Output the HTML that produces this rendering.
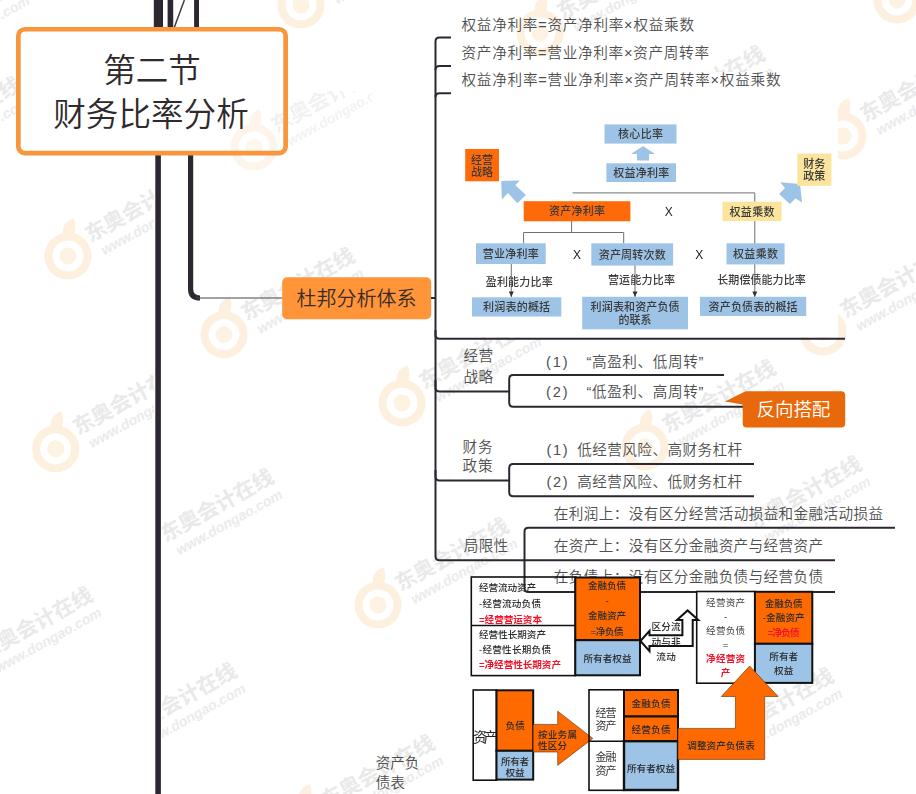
<!DOCTYPE html>
<html lang="zh-CN">
<head>
<meta charset="utf-8">
<title>第二节 财务比率分析</title>
<style>
html,body{margin:0;padding:0;background:#fff;}
body{width:916px;height:794px;overflow:hidden;position:relative;font-family:"Liberation Sans","Noto Sans CJK SC",sans-serif;}
svg{position:absolute;left:0;top:0;display:block;}
text{font-family:"Liberation Sans","Noto Sans CJK SC",sans-serif;}
.ln{fill:none;stroke:#2c2730;stroke-width:2;stroke-linecap:butt;stroke-linejoin:round;}
.t{font-size:14.6px;fill:#4e4e4e;font-weight:350;}
.d{font-size:11px;fill:#3a3a3a;font-weight:500;}
.s{font-size:9.6px;fill:#2a2a2a;font-weight:500;}
.r{fill:#f0142a;font-weight:700;}
.w1{font-size:21px;fill:#e9e9e9;font-weight:700;}
.w2{font-size:14px;fill:#ebebeb;font-weight:700;font-style:italic;}
</style>
</head>
<body>
<svg width="916" height="794" viewBox="0 0 916 794">
<defs><clipPath id="cL"><rect x="0" y="0" width="154" height="794"/></clipPath><clipPath id="cR"><rect x="162" y="0" width="754" height="794"/></clipPath><clipPath id="cT"><rect x="200" y="91" width="172" height="80"/></clipPath><clipPath id="cM"><rect x="766" y="600" width="150" height="194"/></clipPath></defs>
<g id="wms">
<g clip-path="url(#cL)"><g transform="translate(55.7 448.8) rotate(-29)"><circle cx="0" cy="0" r="19.5" fill="none" stroke="#fdf0de" stroke-width="8"/><circle cx="0" cy="0" r="8.5" fill="#fef2e3"/><path d="M6 -22 Q12 -33 23 -30 Q22 -20 14 -15 Z" fill="#fdf0de"/><text class="w1" x="26" y="-1">东奥会计在线</text><text class="w2" x="32" y="17">www.dongao.com</text></g>
</g>
<g clip-path="url(#cL)"><g transform="translate(68 256) rotate(-29)"><circle cx="0" cy="0" r="19.5" fill="none" stroke="#fdf0de" stroke-width="8"/><circle cx="0" cy="0" r="8.5" fill="#fef2e3"/><path d="M6 -22 Q12 -33 23 -30 Q22 -20 14 -15 Z" fill="#fdf0de"/><text class="w1" x="26" y="-1">东奥会计在线</text><text class="w2" x="32" y="17">www.dongao.com</text></g>
</g>
<g clip-path="url(#cR)"><g transform="translate(224 334.6) rotate(-29)"><circle cx="0" cy="0" r="19.5" fill="none" stroke="#fdf0de" stroke-width="8"/><circle cx="0" cy="0" r="8.5" fill="#fef2e3"/><path d="M6 -22 Q12 -33 23 -30 Q22 -20 14 -15 Z" fill="#fdf0de"/><text class="w1" x="26" y="-1">东奥会计在线</text><text class="w2" x="32" y="17">www.dongao.com</text></g>
</g>
<g transform="translate(402 403) rotate(-29)"><circle cx="0" cy="0" r="19.5" fill="none" stroke="#fdf0de" stroke-width="8"/><circle cx="0" cy="0" r="8.5" fill="#fef2e3"/><path d="M6 -22 Q12 -33 23 -30 Q22 -20 14 -15 Z" fill="#fdf0de"/><text class="w1" x="26" y="-1">东奥会计在线</text><text class="w2" x="32" y="17">www.dongao.com</text></g>
<g transform="translate(378 605) rotate(-29)"><circle cx="0" cy="0" r="19.5" fill="none" stroke="#fdf0de" stroke-width="8"/><circle cx="0" cy="0" r="8.5" fill="#fef2e3"/><path d="M6 -22 Q12 -33 23 -30 Q22 -20 14 -15 Z" fill="#fdf0de"/><text class="w1" x="26" y="-1">东奥会计在线</text><text class="w2" x="32" y="17">www.dongao.com</text></g>
<g transform="translate(301 5) rotate(-29)"><circle cx="0" cy="0" r="19.5" fill="none" stroke="#fdf0de" stroke-width="8"/><circle cx="0" cy="0" r="8.5" fill="#fef2e3"/><path d="M6 -22 Q12 -33 23 -30 Q22 -20 14 -15 Z" fill="#fdf0de"/><text class="w1" x="26" y="-1">东奥会计在线</text><text class="w2" x="32" y="17">www.dongao.com</text></g>
<g transform="translate(843 136) rotate(-29)"><circle cx="0" cy="0" r="19.5" fill="none" stroke="#fdf0de" stroke-width="8"/><circle cx="0" cy="0" r="8.5" fill="#fef2e3"/><path d="M6 -22 Q12 -33 23 -30 Q22 -20 14 -15 Z" fill="#fdf0de"/><text class="w1" x="26" y="-1">东奥会计在线</text><text class="w2" x="32" y="17">www.dongao.com</text></g>
<g transform="translate(540 33) rotate(-29)"><circle cx="0" cy="0" r="19.5" fill="none" stroke="#fdf0de" stroke-width="8"/><circle cx="0" cy="0" r="8.5" fill="#fef2e3"/><path d="M6 -22 Q12 -33 23 -30 Q22 -20 14 -15 Z" fill="#fdf0de"/><text class="w1" x="26" y="-1">东奥会计在线</text><text class="w2" x="32" y="17">www.dongao.com</text></g>
<g transform="translate(897 0) rotate(-29)"><circle cx="0" cy="0" r="19.5" fill="none" stroke="#fdf0de" stroke-width="8"/><circle cx="0" cy="0" r="8.5" fill="#fef2e3"/><path d="M6 -22 Q12 -33 23 -30 Q22 -20 14 -15 Z" fill="#fdf0de"/><text class="w1" x="26" y="-1">东奥会计在线</text><text class="w2" x="32" y="17">www.dongao.com</text></g>
<g transform="translate(634 133) rotate(-29)"><circle cx="0" cy="0" r="19.5" fill="none" stroke="#fdf0de" stroke-width="8"/><circle cx="0" cy="0" r="8.5" fill="#fef2e3"/><path d="M6 -22 Q12 -33 23 -30 Q22 -20 14 -15 Z" fill="#fdf0de"/><text class="w1" x="26" y="-1">东奥会计在线</text><text class="w2" x="32" y="17">www.dongao.com</text></g>
<g transform="translate(823 332) rotate(-29)"><circle cx="0" cy="0" r="19.5" fill="none" stroke="#fdf0de" stroke-width="8"/><circle cx="0" cy="0" r="8.5" fill="#fef2e3"/><path d="M6 -22 Q12 -33 23 -30 Q22 -20 14 -15 Z" fill="#fdf0de"/><text class="w1" x="26" y="-1">东奥会计在线</text><text class="w2" x="32" y="17">www.dongao.com</text></g>
<g transform="translate(645 447) rotate(-29)"><circle cx="0" cy="0" r="19.5" fill="none" stroke="#fdf0de" stroke-width="8"/><circle cx="0" cy="0" r="8.5" fill="#fef2e3"/><path d="M6 -22 Q12 -33 23 -30 Q22 -20 14 -15 Z" fill="#fdf0de"/><text class="w1" x="26" y="-1">东奥会计在线</text><text class="w2" x="32" y="17">www.dongao.com</text></g>
<g clip-path="url(#cL)"><g transform="translate(-38 674) rotate(-29)"><circle cx="0" cy="0" r="19.5" fill="none" stroke="#fdf0de" stroke-width="8"/><circle cx="0" cy="0" r="8.5" fill="#fef2e3"/><path d="M6 -22 Q12 -33 23 -30 Q22 -20 14 -15 Z" fill="#fdf0de"/><text class="w1" x="26" y="-1">东奥会计在线</text><text class="w2" x="32" y="17">www.dongao.com</text></g>
</g>
<g clip-path="url(#cR)"><g transform="translate(106 750) rotate(-29)"><circle cx="0" cy="0" r="19.5" fill="none" stroke="#fdf0de" stroke-width="8"/><circle cx="0" cy="0" r="8.5" fill="#fef2e3"/><path d="M6 -22 Q12 -33 23 -30 Q22 -20 14 -15 Z" fill="#fdf0de"/><text class="w1" x="26" y="-1">东奥会计在线</text><text class="w2" x="32" y="17">www.dongao.com</text></g>
</g>
<g clip-path="url(#cL)"><g transform="translate(-110 62) rotate(-29)"><circle cx="0" cy="0" r="19.5" fill="none" stroke="#fdf0de" stroke-width="8"/><circle cx="0" cy="0" r="8.5" fill="#fef2e3"/><path d="M6 -22 Q12 -33 23 -30 Q22 -20 14 -15 Z" fill="#fdf0de"/><text class="w1" x="26" y="-1">东奥会计在线</text><text class="w2" x="32" y="17">www.dongao.com</text></g>
</g>
<g clip-path="url(#cL)"><g transform="translate(-110 164) rotate(-29)"><circle cx="0" cy="0" r="19.5" fill="none" stroke="#fdf0de" stroke-width="8"/><circle cx="0" cy="0" r="8.5" fill="#fef2e3"/><path d="M6 -22 Q12 -33 23 -30 Q22 -20 14 -15 Z" fill="#fdf0de"/><text class="w1" x="26" y="-1">东奥会计在线</text><text class="w2" x="32" y="17">www.dongao.com</text></g>
</g>
<g transform="translate(304 822) rotate(-29)"><circle cx="0" cy="0" r="19.5" fill="none" stroke="#fdf0de" stroke-width="8"/><circle cx="0" cy="0" r="8.5" fill="#fef2e3"/><path d="M6 -22 Q12 -33 23 -30 Q22 -20 14 -15 Z" fill="#fdf0de"/><text class="w1" x="26" y="-1">东奥会计在线</text><text class="w2" x="32" y="17">www.dongao.com</text></g>
<g clip-path="url(#cR)"><g transform="translate(143 556) rotate(-29)"><text class="w1" x="26" y="-1">东奥会计在线</text><text class="w2" x="32" y="17">www.dongao.com</text></g>
</g>
<g clip-path="url(#cM)"><g transform="translate(703 755) rotate(-29)"><text class="w1" x="26" y="-1">东奥会计在线</text><text class="w2" x="32" y="17">www.dongao.com</text></g>
</g>
<g transform="translate(731 543) rotate(-29)"><text class="w1" x="26" y="-1">东奥会计在线</text><text class="w2" x="32" y="17">www.dongao.com</text></g>
</g>
<rect x="455" y="72" width="383" height="265" fill="#fff"/>
<g id="trunk">
<rect x="153.8" y="0" width="9.2" height="30" fill="#2c2730"/>
<rect x="167.6" y="0" width="5.6" height="30" fill="#2c2730"/>
<line x1="184.4" y1="0" x2="173.9" y2="28.5" stroke="#3a3337" stroke-width="1.4"/>
<rect x="194.1" y="0" width="4.9" height="30" fill="#2c2730"/>
<rect x="155.3" y="150" width="5.6" height="644" fill="#2c2730"/>
<path d="M190.6 150 V289 Q190.6 298 200 298" fill="none" stroke="#2c2730" stroke-width="5.2"/>
<path d="M196 298 H284" fill="none" stroke="#4a4548" stroke-width="1.2"/>
</g>
<rect x="18.35" y="29.25" width="267.3" height="123.8" rx="6.5" ry="6.5" fill="#fff"/>
<g opacity="0.6"><g clip-path="url(#cT)"><g transform="translate(254 147) rotate(-29)"><circle cx="0" cy="0" r="19.5" fill="none" stroke="#fdf0de" stroke-width="8"/><circle cx="0" cy="0" r="8.5" fill="#fef2e3"/><path d="M6 -22 Q12 -33 23 -30 Q22 -20 14 -15 Z" fill="#fdf0de"/><text class="w1" x="26" y="-1">东奥会计在线</text><text class="w2" x="32" y="17">www.dongao.com</text></g>
</g>
</g><rect x="18.35" y="29.25" width="267.3" height="123.8" rx="6.5" ry="6.5" fill="none" stroke="#f9953b" stroke-width="4.7"/>
<text x="152" y="70" text-anchor="middle" dominant-baseline="central" style="font-size:32.6px;font-weight:350;fill:#2f2a2d">第二节</text>
<text x="151" y="114.3" text-anchor="middle" dominant-baseline="central" style="font-size:32.6px;font-weight:350;fill:#2f2a2d">财务比率分析</text>
<rect x="282.2" y="277.3" width="149" height="42" rx="5" ry="5" fill="#ff9538"/>
<text x="356.5" y="298.6" text-anchor="middle" dominant-baseline="central" style="font-size:20px;font-weight:350;fill:#3a2a26">杜邦分析体系</text>
<g id="branches">
<path class="ln" d="M431 298 H435.5"/>
<path class="ln" d="M435.5 298 V41.6 Q435.5 37.6 439.5 37.6 H451"/>
<path class="ln" d="M435.5 70 Q435.5 66 439.5 66 H451"/>
<path class="ln" d="M435.5 97.3 Q435.5 93.3 439.5 93.3 H451"/>
<path class="ln" d="M435.5 298 V334.8 Q435.5 338.8 439.5 338.8 H845"/>
<path class="ln" d="M435.5 330 V387.6 Q435.5 391.6 439.5 391.6 H509.2"/>
<path class="ln" d="M724 375 H513.2 Q509.2 375 509.2 379 V402.7 Q509.2 406.7 513.2 406.7 H745"/>
<path class="ln" d="M435.5 380 V476.4 Q435.5 480.4 439.5 480.4 H509.2"/>
<path class="ln" d="M754 464 H513.2 Q509.2 464 509.2 468 V492.2 Q509.2 496.2 513.2 496.2 H754"/>
<path class="ln" d="M435.5 470 V556.3 Q435.5 560.3 439.5 560.3 H835"/>
<path class="ln" d="M895 527.8 H528.5 Q524.5 527.8 524.5 531.8 V588 Q524.5 592 528.5 592 H835"/>
</g>
<g id="texts"><text class="t" x="461.5" y="24.6" text-anchor="start" dominant-baseline="central" textLength="232.5" lengthAdjust="spacing">权益净利率=资产净利率×权益乘数</text>
<text class="t" x="461.5" y="52.6" text-anchor="start" dominant-baseline="central" textLength="247.5" lengthAdjust="spacing">资产净利率=营业净利率×资产周转率</text>
<text class="t" x="461.5" y="80.1" text-anchor="start" dominant-baseline="central" textLength="319" lengthAdjust="spacing">权益净利率=营业净利率×资产周转率×权益乘数</text>
<text class="t" x="463.6" y="356" text-anchor="start" dominant-baseline="central" textLength="29.5" lengthAdjust="spacing">经营</text>
<text class="t" x="463.6" y="376.8" text-anchor="start" dominant-baseline="central" textLength="29.5" lengthAdjust="spacing">战略</text>
<text class="t" x="546" y="361.8" text-anchor="start" dominant-baseline="central" textLength="21.5" lengthAdjust="spacing">(1)</text>
<text class="t" x="586.4" y="361.8" text-anchor="start" dominant-baseline="central" textLength="117" lengthAdjust="spacing">“高盈利、低周转”</text>
<text class="t" x="546" y="392" text-anchor="start" dominant-baseline="central" textLength="21.5" lengthAdjust="spacing">(2)</text>
<text class="t" x="586.4" y="392" text-anchor="start" dominant-baseline="central" textLength="117" lengthAdjust="spacing">“低盈利、高周转”</text>
<text class="t" x="462.5" y="446.7" text-anchor="start" dominant-baseline="central" textLength="30" lengthAdjust="spacing">财务</text>
<text class="t" x="462.5" y="466" text-anchor="start" dominant-baseline="central" textLength="30" lengthAdjust="spacing">政策</text>
<text class="t" x="546.6" y="449.5" text-anchor="start" dominant-baseline="central" textLength="21" lengthAdjust="spacing">(1)</text>
<text class="t" x="577.2" y="449.5" text-anchor="start" dominant-baseline="central" textLength="165" lengthAdjust="spacing">低经营风险、高财务杠杆</text>
<text class="t" x="546.6" y="481.7" text-anchor="start" dominant-baseline="central" textLength="21" lengthAdjust="spacing">(2)</text>
<text class="t" x="577.2" y="481.7" text-anchor="start" dominant-baseline="central" textLength="165" lengthAdjust="spacing">高经营风险、低财务杠杆</text>
<text class="t" x="463.7" y="545.5" text-anchor="start" dominant-baseline="central" textLength="44.5" lengthAdjust="spacing">局限性</text>
<text class="t" x="553.7" y="514" text-anchor="start" dominant-baseline="central" textLength="329.5" lengthAdjust="spacing">在利润上：没有区分经营活动损益和金融活动损益</text>
<text class="t" x="553.7" y="545.7" text-anchor="start" dominant-baseline="central" textLength="269.5" lengthAdjust="spacing">在资产上：没有区分金融资产与经营资产</text>
<text class="t" x="553.7" y="577.3" text-anchor="start" dominant-baseline="central" textLength="269.5" lengthAdjust="spacing">在负债上：没有区分金融负债与经营负债</text>
<text class="t" x="375.8" y="763.2" text-anchor="start" dominant-baseline="central" textLength="43.5" lengthAdjust="spacing">资产负</text>
<text class="t" x="375.8" y="783.3" text-anchor="start" dominant-baseline="central" textLength="29" lengthAdjust="spacing">债表</text>
<path d="M746.7 391.2 H841.2 Q845.2 391.2 845.2 395.2 V423.4 Q845.2 427.4 841.2 427.4 H746.7 Q742.7 427.4 742.7 423.4 V404.6 L725 401.4 L745 391.6 Z" fill="#e8690b"/>
<text x="793.5" y="409.3" text-anchor="middle" dominant-baseline="central" textLength="73.5" lengthAdjust="spacing" style="font-size:18.5px;font-weight:350;fill:#fff">反向搭配</text>
</g>
<g id="dia1" style="filter:blur(0.35px)"><g fill="none" stroke="#707070" stroke-width="1">
<path d="M572.5 192.9 H754.8 V297"/>
<path d="M571.6 221 V232.5 M523.6 243.5 V232.5 H623.7 V243.5"/>
<path d="M511.3 264 V297 M635 265 V297"/>
</g>
<g fill="#333"><path d="M508.8 291.5 h5 l-2.5 5.5z M632.5 291.5 h5 l-2.5 5.5z M752.3 291.5 h5 l-2.5 5.5z"/></g>
<path d="M643 146 L655 154 H649 V160.5 H637 V154 H631 Z" fill="#9dc3e6"/>
<path d="M501.2 180.9 L519.7 180.4 L515.3 185.2 L526 195.1 L517.3 203.3 L508 193 L501.8 199.5 Z" fill="#9dc3e6"/>
<path d="M800 184 L780.2 182.2 L785 188 L779.1 193.9 L789.9 204 L795.5 198.5 L802.1 202.4 Z" fill="#9dc3e6"/>
<rect x="604.5" y="124.4" width="72.0" height="19.2" fill="#9dc3e6"/>
<text class="d" x="640.5" y="134.2" text-anchor="middle" dominant-baseline="central" textLength="45" lengthAdjust="spacing">核心比率</text>
<rect x="606.4" y="163.3" width="69.6" height="18.7" fill="#9dc3e6"/>
<text class="d" x="641.2" y="172.8" text-anchor="middle" dominant-baseline="central" textLength="56" lengthAdjust="spacing">权益净利率</text>
<rect x="465.2" y="149" width="33.8" height="32.3" fill="#ff6a0a"/>
<text class="d" x="482.1" y="159.5" text-anchor="middle" dominant-baseline="central" textLength="22" lengthAdjust="spacing">经营</text>
<text class="d" x="482.1" y="171.5" text-anchor="middle" dominant-baseline="central" textLength="22" lengthAdjust="spacing">战略</text>
<rect x="797.3" y="153.6" width="34.1" height="32.2" fill="#fce49c"/>
<text class="d" x="814.3" y="164.4" text-anchor="middle" dominant-baseline="central" textLength="22" lengthAdjust="spacing">财务</text>
<text class="d" x="814.3" y="175.7" text-anchor="middle" dominant-baseline="central" textLength="22" lengthAdjust="spacing">政策</text>
<rect x="523.7" y="201.2" width="106.7" height="20.1" fill="#ff6a0a"/>
<text class="d" x="577" y="211.3" text-anchor="middle" dominant-baseline="central" textLength="56" lengthAdjust="spacing">资产净利率</text>
<rect x="722.4" y="201.7" width="59.2" height="19.4" fill="#fce49c"/>
<text class="d" x="752" y="211.5" text-anchor="middle" dominant-baseline="central" textLength="45" lengthAdjust="spacing">权益乘数</text>
<text class="d" x="668.8" y="212.3" text-anchor="middle" dominant-baseline="central" style="font-size:12px;fill:#222">X</text>
<rect x="476" y="243.3" width="69.7" height="20.7" fill="#9dc3e6"/>
<text class="d" x="510.8" y="253.7" text-anchor="middle" dominant-baseline="central" textLength="56" lengthAdjust="spacing">营业净利率</text>
<rect x="591.3" y="243.3" width="81.8" height="22.3" fill="#9dc3e6"/>
<text class="d" x="632.2" y="254.5" text-anchor="middle" dominant-baseline="central" textLength="67" lengthAdjust="spacing">资产周转次数</text>
<rect x="726.5" y="243.3" width="58.1" height="21.1" fill="#9dc3e6"/>
<text class="d" x="755.5" y="253.9" text-anchor="middle" dominant-baseline="central" textLength="45" lengthAdjust="spacing">权益乘数</text>
<text class="d" x="577" y="255" text-anchor="middle" dominant-baseline="central" style="font-size:12px;fill:#222">X</text>
<text class="d" x="699.3" y="255" text-anchor="middle" dominant-baseline="central" style="font-size:12px;fill:#222">X</text>
<text class="d" x="519.2" y="282.4" text-anchor="middle" dominant-baseline="central" textLength="67" lengthAdjust="spacing">盈利能力比率</text>
<text class="d" x="641.4" y="280.3" text-anchor="middle" dominant-baseline="central" textLength="67" lengthAdjust="spacing">营运能力比率</text>
<text class="d" x="761.5" y="280" text-anchor="middle" dominant-baseline="central" textLength="88.5" lengthAdjust="spacing">长期偿债能力比率</text>
<rect x="472" y="297.3" width="89.3" height="19.2" fill="#9dc3e6"/>
<text class="d" x="516.6" y="307" text-anchor="middle" dominant-baseline="central" textLength="67" lengthAdjust="spacing">利润表的概括</text>
<rect x="582.2" y="296.8" width="105.8" height="32.5" fill="#9dc3e6"/>
<text class="d" x="635.1" y="306.5" text-anchor="middle" dominant-baseline="central" textLength="89" lengthAdjust="spacing">利润表和资产负债</text>
<text class="d" x="635.1" y="320" text-anchor="middle" dominant-baseline="central" textLength="33" lengthAdjust="spacing">的联系</text>
<rect x="700" y="296.8" width="106.2" height="19.2" fill="#9dc3e6"/>
<text class="d" x="753.1" y="306.5" text-anchor="middle" dominant-baseline="central" textLength="89" lengthAdjust="spacing">资产负债表的概括</text>
</g>
<g id="dia2" style="filter:blur(0.3px)"><rect x="471.3" y="577" width="104.0" height="98.6" fill="none" stroke="#111" stroke-width="1.6"/>
<path d="M471.3 625.5 H575.3" stroke="#111" stroke-width="1.6"/>
<rect x="575.3" y="577.5" width="64.7" height="62.7" fill="#ff6a00" stroke="#111" stroke-width="2"/>
<rect x="575.3" y="640.2" width="64.7" height="35.1" fill="#9dc3e6" stroke="#111" stroke-width="2"/>
<text class="s" x="479" y="587.5" text-anchor="start" dominant-baseline="central" textLength="57" lengthAdjust="spacing">经营流动资产</text>
<text class="s" x="479" y="603.2" text-anchor="start" dominant-baseline="central" textLength="62" lengthAdjust="spacing">-经营流动负债</text>
<text class="s r" x="479" y="619" text-anchor="start" dominant-baseline="central" textLength="63" lengthAdjust="spacing">=经营营运资本</text>
<text class="s" x="479" y="634.7" text-anchor="start" dominant-baseline="central" textLength="67" lengthAdjust="spacing">经营性长期资产</text>
<text class="s" x="479" y="649.9" text-anchor="start" dominant-baseline="central" textLength="72" lengthAdjust="spacing">-经营性长期负债</text>
<text class="s r" x="479" y="664.8" text-anchor="start" dominant-baseline="central" textLength="82" lengthAdjust="spacing">=净经营性长期资产</text>
<text class="s" x="607" y="585.7" text-anchor="middle" dominant-baseline="central" textLength="38" lengthAdjust="spacing">金融负债</text>
<text class="s" x="607" y="600.6" text-anchor="middle" dominant-baseline="central">-</text>
<text class="s" x="607" y="615.5" text-anchor="middle" dominant-baseline="central" textLength="38" lengthAdjust="spacing">金融资产</text>
<text class="s" x="607" y="631.3" text-anchor="middle" dominant-baseline="central" textLength="33" lengthAdjust="spacing">=净负债</text>
<text class="s" x="607.5" y="658.2" text-anchor="middle" dominant-baseline="central" textLength="48" lengthAdjust="spacing">所有者权益</text>
<rect x="696.7" y="591.5" width="58.2" height="91.7" fill="#fff" stroke="#111" stroke-width="1.6"/>
<rect x="754.9" y="591.8" width="57.4" height="52.0" fill="#ff6a00" stroke="#111" stroke-width="2"/>
<rect x="754.9" y="643.8" width="57.4" height="39.1" fill="#9dc3e6" stroke="#111" stroke-width="2"/>
<text class="s" x="725.6" y="602.7" text-anchor="middle" dominant-baseline="central" textLength="39" lengthAdjust="spacing" style="font-weight:400;fill:#3c3c3c">经营资产</text>
<text class="s" x="725.6" y="616.4" text-anchor="middle" dominant-baseline="central">-</text>
<text class="s" x="725.6" y="630.8" text-anchor="middle" dominant-baseline="central" textLength="39" lengthAdjust="spacing" style="font-weight:400;fill:#3c3c3c">经营负债</text>
<text class="s" x="725.6" y="644" text-anchor="middle" dominant-baseline="central">=</text>
<text class="s r" x="725.6" y="658.5" text-anchor="middle" dominant-baseline="central" textLength="39" lengthAdjust="spacing">净经营资</text>
<text class="s r" x="725.6" y="672" text-anchor="middle" dominant-baseline="central">产</text>
<text class="s" x="783.7" y="603.2" text-anchor="middle" dominant-baseline="central" textLength="38" lengthAdjust="spacing">金融负债</text>
<text class="s" x="783.7" y="617.6" text-anchor="middle" dominant-baseline="central" textLength="42" lengthAdjust="spacing">-金融资产</text>
<text class="s r" x="783.7" y="632.8" text-anchor="middle" dominant-baseline="central" textLength="32" lengthAdjust="spacing">=净负债</text>
<text class="s" x="783.7" y="656" text-anchor="middle" dominant-baseline="central" textLength="29" lengthAdjust="spacing">所有者</text>
<text class="s" x="783.7" y="670.5" text-anchor="middle" dominant-baseline="central" textLength="19.5" lengthAdjust="spacing">权益</text>
<path d="M640.4 641 L649.5 630.8 V635.3 H682.4 V620 H677 L687.6 610.4 L698.3 620 H692.7 V646 H649.5 V651.2 Z" fill="none" stroke="#111" stroke-width="2" stroke-linejoin="miter"/>
<text class="s" x="666" y="626.5" text-anchor="middle" dominant-baseline="central" textLength="29" lengthAdjust="spacing">区分流</text>
<text class="s" x="666" y="641.7" text-anchor="middle" dominant-baseline="central" textLength="29" lengthAdjust="spacing">动与非</text>
<text class="s" x="666" y="656.8" text-anchor="middle" dominant-baseline="central" textLength="19.5" lengthAdjust="spacing">流动</text>
<rect x="473.2" y="690" width="23.3" height="90.2" fill="none" stroke="#111" stroke-width="1.6"/>
<rect x="496.5" y="690.3" width="36.7" height="60.5" fill="#ff6a00" stroke="#111" stroke-width="2"/>
<rect x="496.5" y="750.8" width="36.7" height="28.8" fill="#9dc3e6" stroke="#111" stroke-width="2"/>
<text class="s" x="473.2" y="737" text-anchor="start" dominant-baseline="central" textLength="24" lengthAdjust="spacing" style="font-size:13.5px;fill:#222;font-weight:400">资产</text>
<text class="s" x="515.2" y="725.6" text-anchor="middle" dominant-baseline="central" textLength="19.5" lengthAdjust="spacing">负债</text>
<text class="s" x="515" y="761" text-anchor="middle" dominant-baseline="central" textLength="28" lengthAdjust="spacing">所有者</text>
<text class="s" x="515" y="772.5" text-anchor="middle" dominant-baseline="central" textLength="19" lengthAdjust="spacing">权益</text>
<path d="M533.2 724.4 H557.7 V711.2 L592.8 738.4 L557.7 765.3 V752 H533.2 Z" fill="#ff6a00" stroke="#5a2a00" stroke-width="0.6"/>
<text class="s" x="557.5" y="734" text-anchor="middle" dominant-baseline="central" textLength="39" lengthAdjust="spacing">按业务属</text>
<text class="s" x="552.5" y="745.5" text-anchor="middle" dominant-baseline="central" textLength="29" lengthAdjust="spacing">性区分</text>
<rect x="589" y="689.8" width="35" height="100.5" fill="none" stroke="#111" stroke-width="1.6"/>
<path d="M589 741.2 H624" stroke="#111" stroke-width="1.6"/>
<rect x="624" y="690" width="54" height="26.5" fill="#ff6a00" stroke="#111" stroke-width="2"/>
<rect x="624" y="716.5" width="54" height="24.7" fill="#ff6a00" stroke="#111" stroke-width="2"/>
<rect x="624" y="741.2" width="54" height="48.8" fill="#9dc3e6" stroke="#111" stroke-width="2.4"/>
<text class="s" x="606" y="713" text-anchor="middle" dominant-baseline="central" textLength="21" lengthAdjust="spacing" style="font-size:11px;font-weight:400;fill:#333">经营</text>
<text class="s" x="606" y="725.6" text-anchor="middle" dominant-baseline="central" textLength="21" lengthAdjust="spacing" style="font-size:11px;font-weight:400;fill:#333">资产</text>
<text class="s" x="606" y="757.3" text-anchor="middle" dominant-baseline="central" textLength="21" lengthAdjust="spacing" style="font-size:11px;font-weight:400;fill:#333">金融</text>
<text class="s" x="606" y="770.8" text-anchor="middle" dominant-baseline="central" textLength="21" lengthAdjust="spacing" style="font-size:11px;font-weight:400;fill:#333">资产</text>
<text class="s" x="651" y="703.5" text-anchor="middle" dominant-baseline="central" textLength="39" lengthAdjust="spacing">金融负债</text>
<text class="s" x="651" y="729.5" text-anchor="middle" dominant-baseline="central" textLength="39" lengthAdjust="spacing">经营负债</text>
<text class="s" x="651" y="768" text-anchor="middle" dominant-baseline="central" textLength="48" lengthAdjust="spacing">所有者权益</text>
<path d="M678 728.4 H735.4 V696.5 H721.3 L749.7 666 L778 696.5 H764.7 V759.4 H678 Z" fill="#ff6a00" stroke="#5a2a00" stroke-width="0.6"/>
<text class="s" x="721" y="745" text-anchor="middle" dominant-baseline="central" textLength="67.5" lengthAdjust="spacing">调整资产负债表</text>
</g>
</svg>
</body>
</html>
